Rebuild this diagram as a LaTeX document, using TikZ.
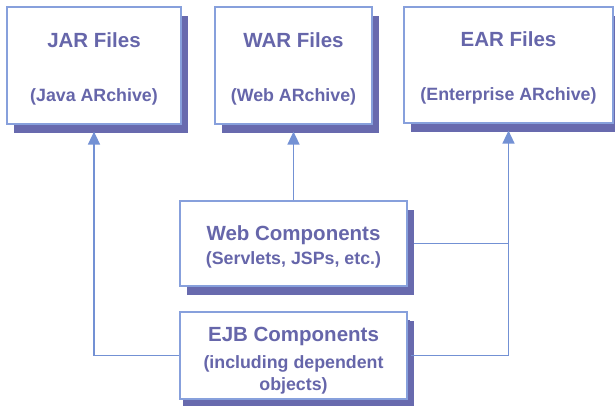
\documentclass[tikz,border=0pt]{standalone}
\usepackage{fontspec}
\setmainfont{Liberation Sans}
\usetikzlibrary{arrows.meta,shadows}

\definecolor{inkblue}{RGB}{102,102,170}
\definecolor{shadeblue}{RGB}{104,106,174}
\definecolor{rimblue}{RGB}{135,160,220}
\definecolor{wireblue}{RGB}{115,145,212}

\newcommand{\subtxt}{\fontsize{17.8}{21}\selectfont}
\newcommand{\topgap}[1]{\rule{0pt}{#1}}

\begin{document}
\begin{tikzpicture}[x=1pt,y=-1pt]
    \tikzset{archive/.style={draw=rimblue, line width=1.2pt, fill=white, text=inkblue,
        align=center, inner sep=0pt, font=\bfseries\fontsize{20.5}{24}\selectfont,
        general shadow={fill=shadeblue, shadow xshift=7pt, shadow yshift=-9pt}}}
    \tikzset{wire/.style={draw=wireblue, line width=1.5pt}}
    \tikzset{feed/.style={wire, -{Triangle[length=13pt,width=12pt]}, shorten >=7pt}}
    \useasboundingbox (0,0) rectangle (615,406);
    % archive boxes
    \node[archive, minimum width=174pt, minimum height=117pt] (jar) at (94,65.5)
      {\topgap{21pt}JAR Files\\[30pt]\subtxt (Java ARchive)};
    \node[archive, minimum width=157pt, minimum height=117pt] (war) at (293.5,65.5)
      {\topgap{21pt}WAR Files\\[30pt]\subtxt (Web ARchive)};
    \node[archive, minimum width=209pt, minimum height=116pt] (ear) at (508.5,65)
      {\topgap{21pt}EAR Files\\[30pt]\subtxt (Enterprise ARchive)};
    % components
    \node[archive, minimum width=227pt, minimum height=85pt] (web) at (293.5,243.5)
      {\topgap{22pt}Web Components\\[0pt]\subtxt (Servlets, JSPs, etc.)};
    \node[archive, minimum width=227pt, minimum height=87pt,
      general shadow={fill=shadeblue, shadow xshift=3pt, shadow yshift=-8pt}] (ejb) at (293.5,355.5)
      {\topgap{24pt}EJB Components\\[3pt]\subtxt (including dependent\\[-2pt]\subtxt objects)};
    % connectors
    \draw[feed] (web) -- (war);
    \draw[feed] (ejb) -| (jar);
    \draw[feed, shorten <=3pt] (ejb) -| (ear);
    \draw[wire, shorten <=6pt] (web.east) -- (web.east -| ear.south);
\end{tikzpicture}
\end{document}
